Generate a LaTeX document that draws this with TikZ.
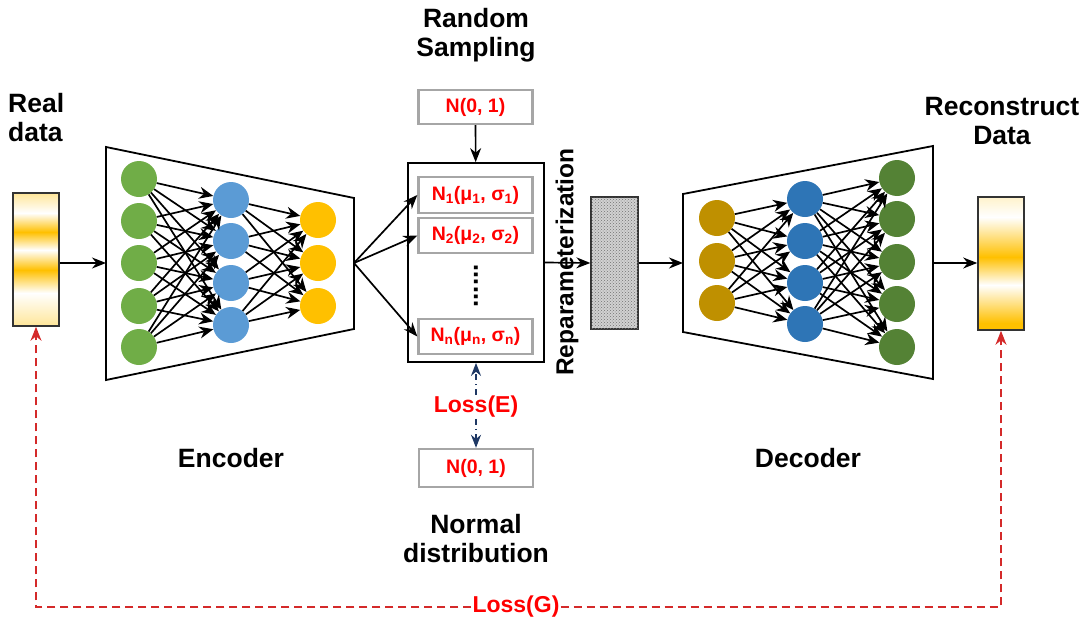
\documentclass[tikz,border=0pt]{standalone}
\usepackage{fontspec}
\setmainfont{Liberation Sans}
\usetikzlibrary{arrows.meta,patterns}

\definecolor{encgreen}{HTML}{70AD47}
\definecolor{encblue}{HTML}{5B9BD5}
\definecolor{encyellow}{HTML}{FFC000}
\definecolor{decgold}{HTML}{BF9000}
\definecolor{decblue}{HTML}{2E75B6}
\definecolor{decgreen}{HTML}{548235}
\definecolor{barorange}{HTML}{FFC000}
\definecolor{barlight}{HTML}{FFE699}
\definecolor{boxgray}{HTML}{A6A6A6}
\definecolor{lossred}{HTML}{FF0000}
\definecolor{loopred}{HTML}{D42A2A}
\definecolor{navy}{HTML}{1F3864}

\tikzset{
  neuron/.style={circle, inner sep=0pt, minimum size=36pt, draw=none},
  edge/.style={line width=1.7pt, -{Stealth[length=14pt,width=12pt]}},
  link/.style={line width=1.7pt, -{Stealth[length=14pt,width=11pt]}},
  frame/.style={line width=1.8pt},
  distbox/.style={draw=boxgray, line width=2.4pt, inner sep=0pt, text=lossred,
    font=\fontsize{19.5}{21}\selectfont\bfseries, minimum width=114pt},
  biglabel/.style={inner sep=0pt, align=center, font=\fontsize{26.5}{29}\selectfont\bfseries},
  losslabel/.style={inner sep=1pt, text=lossred, font=\fontsize{23}{25}\selectfont\bfseries},
  databar/.style={draw=black!80, line width=1.6pt, inner sep=0pt, minimum width=46pt, minimum height=133pt},
  lossE/.style={draw=navy, line width=1.6pt, dash pattern=on 6pt off 4pt on 1.5pt off 4pt,
    -{Stealth[length=13pt,width=10pt]}, navy},
  lossG/.style={draw=loopred, line width=1.6pt, dash pattern=on 8pt off 5pt,
    -{Stealth[length=14pt,width=11pt]}}
}

\begin{document}
\begin{tikzpicture}[x=1pt,y=-1pt]
\useasboundingbox (0,0) rectangle (1088,624);

% ---- input data bar ----
\shade[top color=barlight, bottom color=white] (13,193) rectangle (59,213);
\shade[top color=white, bottom color=barorange] (13,213) rectangle (59,232);
\shade[top color=barorange, bottom color=white] (13,232) rectangle (59,250);
\shade[top color=white, bottom color=barorange] (13,250) rectangle (59,270);
\shade[top color=barorange, bottom color=white] (13,270) rectangle (59,293);
\shade[top color=white, bottom color=barlight] (13,293) rectangle (59,326);
\node[databar] (lbar) at (36,259.5) {};

% ---- output data bar ----
\shade[top color=barlight!50, bottom color=white] (978,197) rectangle (1024,217);
\shade[top color=white, bottom color=barorange] (978,217) rectangle (1024,257);
\shade[top color=barorange, bottom color=white] (978,257) rectangle (1024,285);
\shade[top color=white, bottom color=barorange] (978,285) rectangle (1024,323);
\fill[barorange] (978,323) rectangle (1024,330);
\node[databar] (rbar) at (1001,263.5) {};

% ---- encoder ----
\draw[frame] (106,147) -- (354,198) -- (354,329) -- (106,380) -- cycle;
\coordinate (encL) at (106,263);
\coordinate (encR) at (354,263);
\foreach \y [count=\i] in {179,221,263,306,347}
  \node[neuron, fill=encgreen] (eg\i) at (139,\y) {};
\foreach \y [count=\i] in {200,241,283,325}
  \node[neuron, fill=encblue] (eb\i) at (231,\y) {};
\foreach \y [count=\i] in {220,263,306}
  \node[neuron, fill=encyellow] (ey\i) at (318,\y) {};
\foreach \i in {1,...,5}
  \foreach \j in {1,...,4}
    \draw[edge] (eg\i) -- (eb\j);
\foreach \i in {1,...,4}
  \foreach \j in {1,...,3}
    \draw[edge] (eb\i) -- (ey\j);

% ---- latent distributions ----
\node[distbox, minimum height=34pt] (nrand) at (475.5,107) {N(0, 1)};
\node[draw, line width=1.8pt, minimum width=136pt, minimum height=199pt, inner sep=0pt] (latent) at (476,262.5) {};
\node[distbox, minimum height=36pt] (n1) at (475.5,195) {N\textsubscript{1}(μ\textsubscript{1}, σ\textsubscript{1})};
\node[distbox, minimum height=35pt] (n2) at (475.5,235.5) {N\textsubscript{2}(μ\textsubscript{2}, σ\textsubscript{2})};
\node[inner sep=0pt, rotate=90, font=\fontsize{26}{26}\selectfont\bfseries] (dots) at (476,286) {......};
\node[distbox, minimum height=35pt] (nn) at (475.5,336.5) {N\textsubscript{n}(μ\textsubscript{n}, σ\textsubscript{n})};
\node[distbox, minimum height=38pt] (nnorm) at (476,468) {N(0, 1)};

\draw[link] (nrand) -- (latent);
\draw[link] (encR) -- (n1.west);
\draw[link] (encR) -- (n2.west);
\draw[link] (encR) -- (nn.west);

% ---- reparameterization ----
\node[draw=black!80, line width=1.3pt, minimum width=47pt, minimum height=132pt, inner sep=0pt,
  fill=black!18, postaction={pattern=crosshatch dots, pattern color=black!55}] (zblock) at (614.5,263) {};
\draw[link] (latent.east) -- (zblock.west);
\node[inner sep=0pt, rotate=90, font=\fontsize{24.5}{24.5}\selectfont\bfseries] (reparam) at (567,262) {Reparameterization};

% ---- decoder ----
\draw[frame] (683,194) -- (933,146) -- (933,379) -- (683,332) -- cycle;
\coordinate (decL) at (683,263);
\coordinate (decR) at (933,263);
\foreach \y [count=\i] in {218,261,303}
  \node[neuron, fill=decgold] (dg\i) at (717,\y) {};
\foreach \y [count=\i] in {199,241,283,324}
  \node[neuron, fill=decblue] (db\i) at (805,\y) {};
\foreach \y [count=\i] in {178,219,262,304,347}
  \node[neuron, fill=decgreen] (dn\i) at (897,\y) {};
\foreach \i in {1,...,3}
  \foreach \j in {1,...,4}
    \draw[edge] (dg\i) -- (db\j);
\foreach \i in {1,...,4}
  \foreach \j in {1,...,5}
    \draw[edge] (db\i) -- (dn\j);

% ---- main data flow ----
\draw[link] (lbar.east |- encL) -- (encL);
\draw[link] (zblock.east) -- (decL);
\draw[link] (decR) -- (rbar.west |- decR);

% ---- labels ----
\node[biglabel, anchor=north] (lblrand) at (476,8) {Random\\Sampling};
\node[biglabel, anchor=north west, align=left] (lblreal) at (8,93) {Real\\data};
\node[biglabel, anchor=north] (lblrec) at (1002,97) {Reconstruct\\Data};
\node[biglabel] (lblenc) at (231,458) {Encoder};
\node[biglabel] (lbldec) at (808,458) {Decoder};
\node[biglabel, anchor=north] (lblnorm) at (476,514) {Normal\\distribution};

% ---- losses ----
\node[losslabel] (lossEnode) at (476,407) {Loss(E)};
\draw[lossE] (lossEnode) -- (latent.south);
\draw[lossE] (lossEnode) -- (nnorm.north);

\node[losslabel] (lossGnode) at (516,607) {Loss(G)};
\draw[lossG] (lossGnode.west) -| (lbar.south);
\draw[lossG] (lossGnode.east) -| (rbar.south);

\end{tikzpicture}
\end{document}
